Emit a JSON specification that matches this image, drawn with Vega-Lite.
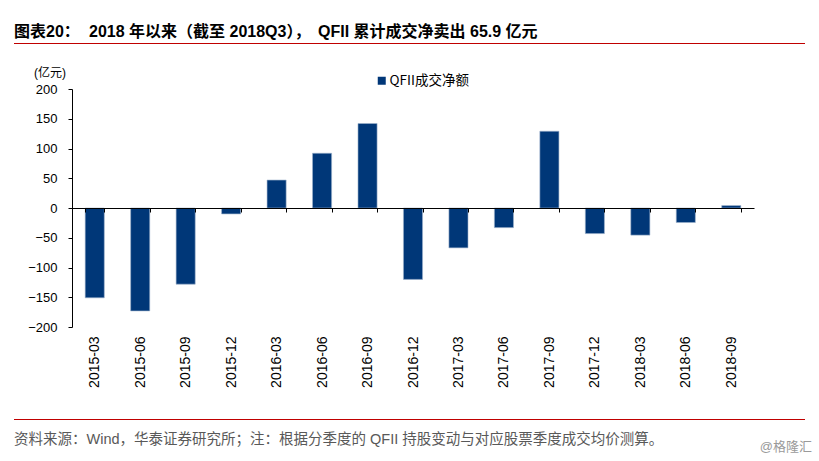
{
  "$schema": "https://vega.github.io/schema/vega-lite/v6.json",
  "width": 682,
  "height": 238,
  "autosize": {"type": "none"},
  "padding": {"left": 72, "top": 89, "right": 65, "bottom": 134},
  "background": "white",
  "config": {
    "view": {"stroke": null},
    "font": "'Liberation Sans', 'Noto Sans CJK SC', sans-serif"
  },
  "data": {
    "values": [
      {"date": "2015-03", "value": -151, "series": "QFII成交净额"},
      {"date": "2015-06", "value": -173, "series": "QFII成交净额"},
      {"date": "2015-09", "value": -128, "series": "QFII成交净额"},
      {"date": "2015-12", "value": -10, "series": "QFII成交净额"},
      {"date": "2016-03", "value": 47, "series": "QFII成交净额"},
      {"date": "2016-06", "value": 92, "series": "QFII成交净额"},
      {"date": "2016-09", "value": 142, "series": "QFII成交净额"},
      {"date": "2016-12", "value": -120, "series": "QFII成交净额"},
      {"date": "2017-03", "value": -67, "series": "QFII成交净额"},
      {"date": "2017-06", "value": -33, "series": "QFII成交净额"},
      {"date": "2017-09", "value": 129, "series": "QFII成交净额"},
      {"date": "2017-12", "value": -43, "series": "QFII成交净额"},
      {"date": "2018-03", "value": -45.6, "series": "QFII成交净额"},
      {"date": "2018-06", "value": -24.4, "series": "QFII成交净额"},
      {"date": "2018-09", "value": 4.1, "series": "QFII成交净额"}
    ]
  },
  "layer": [
    {
      "mark": {"type": "bar", "stroke": "#9fb3cc", "strokeWidth": 0.6},
      "encoding": {
        "x": {
          "field": "date",
          "type": "nominal",
          "sort": null,
          "scale": {"paddingInner": 0.58, "paddingOuter": 0.29},
          "axis": {
            "title": null,
            "orient": "bottom",
            "offset": -119,
            "zindex": 1,
            "domainColor": "#000000",
            "domainWidth": 1,
            "tickColor": "#000000",
            "tickSize": 4,
            "tickBand": "extent",
            "labelAngle": -90,
            "labelPadding": 124,
            "labelFontSize": 14,
            "labelColor": "#000000",
            "labelFont": "'Liberation Sans', sans-serif"
          }
        },
        "y": {
          "field": "value",
          "type": "quantitative",
          "scale": {"domain": [-200, 200], "nice": false, "zero": false},
          "axis": {
            "title": null,
            "values": [-200, -150, -100, -50, 0, 50, 100, 150, 200],
            "grid": false,
            "domainColor": "#000000",
            "tickColor": "#000000",
            "tickSize": 4,
            "labelPadding": 11,
            "labelFontSize": 13,
            "labelColor": "#000000",
            "labelFont": "'Liberation Sans', sans-serif"
          }
        },
        "color": {
          "field": "series",
          "type": "nominal",
          "scale": {"range": ["#003778"]},
          "legend": {
            "title": null,
            "orient": "none",
            "legendX": 303,
            "legendY": -15,
            "padding": 0,
            "symbolType": "square",
            "symbolSize": 64,
            "symbolStrokeWidth": 0,
            "labelFontSize": 13.5,
            "labelOffset": 1,
            "labelColor": "#000000",
            "labelFont": "'Noto Sans CJK SC', sans-serif"
          }
        }
      }
    },
    {
      "data": {"values": [{}]},
      "mark": {"type": "text", "text": "图表20：", "align": "left", "baseline": "middle", "fontSize": 16, "fontWeight": "bold", "color": "#000000"},
      "encoding": {"x": {"value": -58}, "y": {"value": -57}}
    },
    {
      "data": {"values": [{}]},
      "mark": {"type": "text", "text": "2018 年以来（截至 2018Q3），", "align": "left", "baseline": "middle", "fontSize": 16, "fontWeight": "bold", "color": "#000000"},
      "encoding": {"x": {"value": 17}, "y": {"value": -57}}
    },
    {
      "data": {"values": [{}]},
      "mark": {"type": "text", "text": "QFII 累计成交净卖出 65.9 亿元", "align": "left", "baseline": "middle", "fontSize": 16, "fontWeight": "bold", "color": "#000000"},
      "encoding": {"x": {"value": 246}, "y": {"value": -57}}
    },
    {
      "data": {"values": [{}]},
      "mark": {"type": "rule", "color": "#c00000", "strokeWidth": 1},
      "encoding": {"x": {"value": -58}, "x2": {"value": 733}, "y": {"value": -45.5}}
    },
    {
      "data": {"values": [{}]},
      "mark": {"type": "text", "text": "(亿元)", "align": "center", "baseline": "middle", "fontSize": 12, "color": "#000000"},
      "encoding": {"x": {"value": -22}, "y": {"value": -16}}
    },
    {
      "data": {"values": [{}]},
      "mark": {"type": "rule", "color": "#c00000", "strokeWidth": 1},
      "encoding": {"x": {"value": -58}, "x2": {"value": 733}, "y": {"value": 330.5}}
    },
    {
      "data": {"values": [{}]},
      "mark": {"type": "text", "text": "资料来源：Wind，华泰证券研究所；注：根据分季度的 QFII 持股变动与对应股票季度成交均价测算。", "align": "left", "baseline": "middle", "fontSize": 14.5, "color": "#595959"},
      "encoding": {"x": {"value": -58}, "y": {"value": 351}}
    },
    {
      "data": {"values": [{}]},
      "mark": {"type": "text", "text": "@格隆汇", "align": "right", "baseline": "middle", "fontSize": 13, "color": "#9a9a9a"},
      "encoding": {"x": {"value": 740}, "y": {"value": 358}}
    }
  ]
}
